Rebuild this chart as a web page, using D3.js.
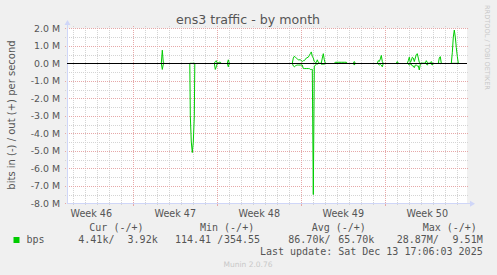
<!DOCTYPE html>
<html><head><meta charset="utf-8">
<script src="https://cdn.jsdelivr.net/npm/d3@7"></script>
<style>html,body{margin:0;padding:0;background:#f0f0f0;} svg{display:block;}</style>
</head><body><svg id="c" width="497" height="275"></svg>
<script>
// ---- data (hours since Mon 2025-11-17 00:00 UTC; null = gap) ----
const weekBase = Date.UTC(2025, 10, 17);
const hours = [
  56,58,60,62,null,
  113,114,116,118,120,122,123,null,
  162,164,166,168,170,172,174,176,null,
  188,190,192,null,
  318,320,322,324,326,328,330,334,338,340,342,346,350,352,354,356,358,360,362,364,366,368,370,372,374,376,378,380,382,384,null,
  402,404,410,416,422,426,428,null,
  440,442,444,null,
  488,490,492,494,496,498,500,null,
  526,528,530,null,
  548,550,552,554,556,558,560,562,564,566,568,570,572,574,576,584,586,588,590,594,596,598,600,null,
  610,612,614,616,null,
  636,638,640,642,644,646,648,650
];
// out (+) in Mbit/s
const outMbps = [
  0,0.75,0.05,0,null,
  0,0,0,0,0,0,0,null,
  0,0.1,0.15,0,0.02,0.06,0.06,0,null,
  0,0.2,0,null,
  0,0.3,0.4,0.35,0.3,0.25,0.2,0.2,0.1,0.15,0.15,0.3,0.35,0.45,0.55,0.65,0.4,0.3,0.1,0.05,0.05,0.2,0.05,0,0,0,0.3,0.55,0.2,0,null,
  0,0.06,0.06,0.06,0.06,0.06,0,null,
  0,0.1,0,null,
  0,0.15,0.1,0.25,0.45,0.1,0,null,
  0,0.1,0,null,
  0,0.15,0.35,0.05,0.15,0.35,0.3,0.1,0.3,0.5,0.55,0.3,0.05,0,0,0,0.15,0.05,0,0,0.1,0,0,null,
  0,0.3,0.38,0,null,
  0,0.6,1.5,1.9,1.5,0.9,0.4,0
];
// in (-) in Mbit/s (plotted below zero)
const inMbps = [
  0,0.35,0.05,0,null,
  0,3.0,4.5,5.1,4.5,3.0,0,null,
  0,0.35,0.2,0,0,0,0,0,null,
  0,0.2,0,null,
  0,0.15,0.2,0.15,0.12,0.1,0.1,0.1,0.1,0.3,0.3,0.3,0.3,0.3,0.35,0.35,0.35,7.5,0.2,0.1,0.05,0.05,0,0,0,0.05,0.05,0.05,0.05,0,null,
  0,0,0,0,0,0,0,null,
  0,0.1,0,null,
  0,0.05,0.1,0.05,0.1,0.2,0,null,
  0,0,0,null,
  0,0.05,0.1,0.05,0.05,0.15,0.15,0.25,0.1,0.1,0.15,0.15,0.38,0.05,0,0,0.05,0.1,0,0,0.05,0.1,0,null,
  0,0,0.02,0,null,
  0,0,0,0,0,0,0,0
];
const yTicks = [2,1,0,-1,-2,-3,-4,-5,-6,-7,-8];
const weekLabels = ["Week 46","Week 47","Week 48","Week 49","Week 50"];
const weekStarts = ["2025-11-10","2025-11-17","2025-11-24","2025-12-01","2025-12-08"];
const legendHeaders = ["Cur (-/+)","Min (-/+)","Avg (-/+)","Max (-/+)"];
const legendIn = ["4.41k/","114.41 /","86.70k/","28.87M/"];
const legendOut = ["3.92k","354.55","65.70k","9.51M"];

// ---- layout ----
const DAY = 864e5;
const L = 67, R = 467, T = 28.3, B = 203.3;
const svg = d3.select("#c");
const x = d3.scaleUtc()
  .domain([new Date(weekBase - 5.525*DAY), new Date(weekBase + 27.8083*DAY)])
  .range([L, R]);
const y = d3.scaleLinear().domain([-8, 2]).range([B, T]);

svg.append("rect").attr("width",497).attr("height",275).attr("fill","#f0f0f0");
svg.append("rect").attr("x",L).attr("y",T).attr("width",R-L).attr("height",B-T).attr("fill","#ffffff");

const grid = svg.append("g").attr("shape-rendering","crispEdges");
d3.range(-7.5, 2, 1).forEach(v => {
  grid.append("line").attr("x1",L-2).attr("x2",R+2).attr("y1",Math.round(y(v))+0.5).attr("y2",Math.round(y(v))+0.5)
    .attr("stroke","#d4d4d4").attr("stroke-dasharray","1,1");
});
d3.utcDay.range(x.domain()[0], x.domain()[1]).forEach(d => {
  if (d3.utcMonday(d).getTime() === d.getTime()) return;
  const px = Math.round(x(d))+0.5;
  grid.append("line").attr("x1",px).attr("x2",px).attr("y1",T-2).attr("y2",B+2)
    .attr("stroke","#d4d4d4").attr("stroke-dasharray","1,1");
});
yTicks.forEach(v => {
  if (v === 0) return;
  const py = Math.round(y(v))+0.5;
  grid.append("line").attr("x1",L-2).attr("x2",R+2).attr("y1",py).attr("y2",py)
    .attr("stroke","#e6a8a8").attr("stroke-dasharray","1,1");
});
d3.utcMonday.range(x.domain()[0], x.domain()[1]).forEach(d => {
  const px = Math.round(x(d))+0.5;
  grid.append("line").attr("x1",px).attr("x2",px).attr("y1",T-2).attr("y2",B)
    .attr("stroke","#e6a8a8").attr("stroke-dasharray","1,1");
  grid.append("line").attr("x1",px).attr("x2",px).attr("y1",B).attr("y2",B+3)
    .attr("stroke","#e6a8a8");
});

const axisCol = "#cfd6f8";
svg.append("line").attr("x1",L+0.5).attr("x2",L+0.5).attr("y1",B).attr("y2",24).attr("stroke",axisCol).attr("shape-rendering","crispEdges");
svg.append("line").attr("x1",L).attr("x2",471).attr("y1",Math.round(B)+0.5).attr("y2",Math.round(B)+0.5).attr("stroke",axisCol).attr("shape-rendering","crispEdges");
svg.append("path").attr("d",`M${L-2.5},25 L${L+0.5},20 L${L+3.5},25 Z`).attr("fill",axisCol);
svg.append("path").attr("d",`M470,${B-2.5} L475,${B+0.5} L470,${B+3.5} Z`).attr("fill",axisCol);

const fontCol = "#555";
svg.append("g").selectAll("text").data(yTicks).join("text")
  .attr("x",60).attr("y",d => y(d)+3.5).attr("text-anchor","end")
  .attr("font-family","DejaVu Sans").attr("font-size",9.4).attr("fill",fontCol)
  .text(d => d.toFixed(1) + " M");

svg.append("g").selectAll("text").data(weekLabels).join("text")
  .attr("x",(d,i) => x(new Date(Date.parse(weekStarts[i]+"T00:00:00Z") + 3.5*DAY)))
  .attr("y",216.5).attr("text-anchor","middle")
  .attr("font-family","DejaVu Sans").attr("font-size",9.6).attr("fill",fontCol)
  .text(d => d);

const pts = hours.map((h,i) => ({t: h == null ? null : new Date(weekBase + h*3600e3), o: outMbps[i], n: inMbps[i]}));
const lineOut = d3.line().defined(d => d.t != null && d.o != null).x(d => x(d.t)).y(d => y(d.o));
const lineIn = d3.line().defined(d => d.t != null && d.n != null).x(d => x(d.t)).y(d => y(-d.n));
svg.append("path").attr("d",lineIn(pts)).attr("fill","none").attr("stroke","#00cc00").attr("stroke-width",1);
svg.append("path").attr("d",lineOut(pts)).attr("fill","none").attr("stroke","#00cc00").attr("stroke-width",1);

svg.append("line").attr("x1",L).attr("x2",R).attr("y1",Math.round(y(0))+0.5).attr("y2",Math.round(y(0))+0.5)
  .attr("stroke","#000").attr("shape-rendering","crispEdges");

svg.append("text").attr("x",248).attr("y",24).attr("text-anchor","middle")
  .attr("font-family","DejaVu Sans").attr("font-size",12.6).attr("fill",fontCol)
  .text("ens3 traffic - by month");

svg.append("text").attr("transform","translate(15,115) rotate(-90)").attr("text-anchor","middle")
  .attr("font-family","DejaVu Sans").attr("font-size",10).attr("fill",fontCol)
  .text("bits in (-) / out (+) per second");

svg.append("text").attr("transform","translate(485,5) rotate(90)")
  .attr("font-family","DejaVu Sans").attr("font-size",6.6).attr("fill","#c8c8c8")
  .text("RRDTOOL / TOBI OETIKER");

const mono = "DejaVu Sans Mono";
const hdrX = [89.3, 200, 311.7, 422.7];
const inX = [78.3, 175, 288.3, 396.7];
const outX = [157.7, 260, 374.3, 482.7];
const lg = svg.append("g").attr("font-family",mono).attr("font-size",10).attr("fill",fontCol).style("white-space","pre");
legendHeaders.forEach((h,i) => lg.append("text").attr("x",hdrX[i]).attr("y",231).text(h));
legendIn.forEach((h,i) => lg.append("text").attr("x",inX[i]).attr("y",243).text(h));
legendOut.forEach((h,i) => lg.append("text").attr("x",outX[i]).attr("y",243).attr("text-anchor","end").text(h));
svg.append("rect").attr("x",13.5).attr("y",237).attr("width",6).attr("height",6).attr("fill","#00cc00");
lg.append("text").attr("x",26.5).attr("y",243).text("bps");
lg.append("text").attr("x",482.7).attr("y",255).attr("text-anchor","end").text("Last update: Sat Dec 13 17:06:03 2025");

svg.append("text").attr("x",248).attr("y",266.5).attr("text-anchor","middle")
  .attr("font-family","DejaVu Sans").attr("font-size",7.5).attr("fill","#c8c8c8")
  .text("Munin 2.0.76");
</script></body></html>
